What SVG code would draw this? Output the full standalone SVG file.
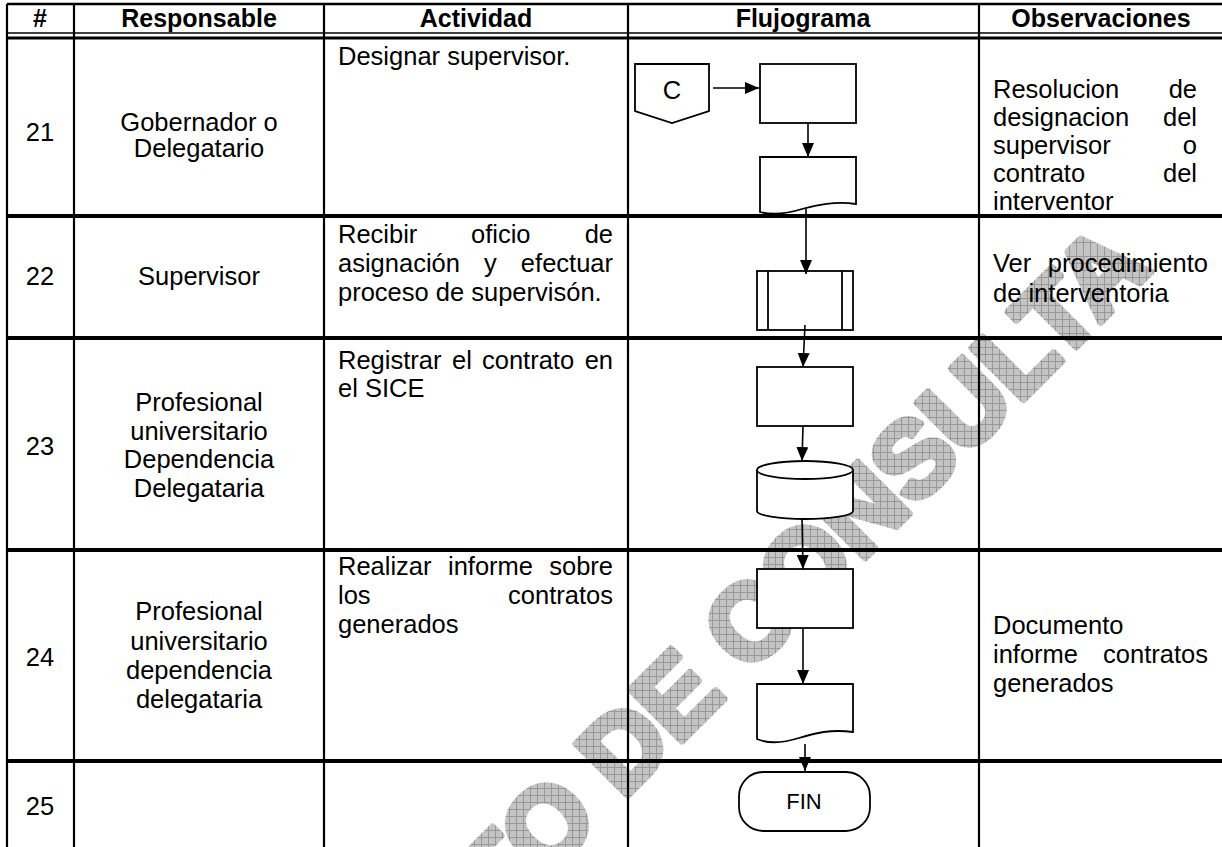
<svg xmlns="http://www.w3.org/2000/svg" width="1222" height="847" viewBox="0 0 1222 847">
<defs>
<style>
text{font-family:"Liberation Sans",Arial,sans-serif;fill:#000}
.b{font-size:25.5px}
.h{font-size:25px;font-weight:bold;text-anchor:middle}
.m{text-anchor:middle}
.e{text-anchor:end}
.ln{stroke:#000;fill:none}
.v{stroke-width:2.2}
.hz{stroke-width:4}
.shape{fill:#fff;stroke:#000;stroke-width:1.8}
.conn{stroke:#000;stroke-width:1.6;fill:none;marker-end:url(#arr)}
.wm{font-family:"Liberation Sans",Arial,sans-serif;font-weight:bold;font-size:106px;fill:url(#hatch);stroke:url(#hatch);stroke-width:7;stroke-linejoin:round}
</style>
<marker id="arr" markerUnits="userSpaceOnUse" markerWidth="14" markerHeight="12" refX="14" refY="6" orient="auto"><path d="M0,0L14,6L0,12z" fill="#000"/></marker>
<pattern id="hatch" patternUnits="userSpaceOnUse" width="7" height="7" patternTransform="rotate(45)"><rect width="7" height="7" fill="#c4c4c4"/><path d="M0,0.5H7M0.5,0V7" stroke="#989898" stroke-width="1"/></pattern>
</defs>
<rect width="1222" height="847" fill="#fff"/>
<g id="watermark"><text class="wm" transform="translate(1153,270) rotate(-45)" text-anchor="end">DOCUMENTO DE CONSULTA</text></g>
<g id="table">
<path class="ln" stroke-width="2.5" d="M7,4H1222"/>
<path class="ln" stroke-width="1.5" d="M7,33H1222"/>
<path class="ln" stroke-width="3" d="M7,38H1222"/>
<path class="ln hz" d="M7,216H1222M7,338H1222M7,550H1222M7,761H1222"/>
<path class="ln v" d="M7,4V847M74,4V847M324,4V847M628,4V847M979,4V847"/>
</g>
<g id="header">
<text class="h" x="40" y="27">#</text>
<text class="h" x="199" y="27">Responsable</text>
<text class="h" x="476" y="27">Actividad</text>
<text class="h" x="803" y="27">Flujograma</text>
<text class="h" x="1101" y="27">Observaciones</text>
</g>
<g id="row21">
<text class="b m" x="40" y="141">21</text>
<text class="b m" x="199" y="131">Gobernador o</text>
<text class="b m" x="199" y="157">Delegatario</text>
<text class="b" x="338" y="65">Designar supervisor.</text>
<text class="b" x="993" y="98">Resolucion</text><text class="b e" x="1197" y="98">de</text>
<text class="b" x="993" y="126">designacion</text><text class="b e" x="1197" y="126">del</text>
<text class="b" x="993" y="154">supervisor</text><text class="b e" x="1197" y="154">o</text>
<text class="b" x="993" y="182">contrato</text><text class="b e" x="1197" y="182">del</text>
<text class="b" x="993" y="210">interventor</text>
</g>
<g id="row22">
<text class="b m" x="40" y="285">22</text>
<text class="b m" x="199" y="285">Supervisor</text>
<text class="b" x="338" y="243">Recibir</text><text class="b" x="471" y="243">oficio</text><text class="b e" x="613" y="243">de</text>
<text class="b" x="338" y="272">asignación</text><text class="b" x="484" y="272">y</text><text class="b e" x="613" y="272">efectuar</text>
<text class="b" x="338" y="301">proceso de supervisón.</text>
<text class="b" x="993" y="272">Ver</text><text class="b e" x="1208" y="272">procedimiento</text>
<text class="b" x="993" y="302">de interventoria</text>
</g>
<g id="row23">
<text class="b m" x="40" y="455">23</text>
<text class="b m" x="199" y="411">Profesional</text>
<text class="b m" x="199" y="440">universitario</text>
<text class="b m" x="199" y="468">Dependencia</text>
<text class="b m" x="199" y="497">Delegataria</text>
<text class="b" x="338" y="369">Registrar</text><text class="b" x="452" y="369">el</text><text class="b" x="482" y="369">contrato</text><text class="b e" x="613" y="369">en</text>
<text class="b" x="338" y="397">el SICE</text>
</g>
<g id="row24">
<text class="b m" x="40" y="666">24</text>
<text class="b m" x="199" y="620">Profesional</text>
<text class="b m" x="199" y="650">universitario</text>
<text class="b m" x="199" y="679">dependencia</text>
<text class="b m" x="199" y="708">delegataria</text>
<text class="b" x="338" y="575">Realizar</text><text class="b" x="448" y="575">informe</text><text class="b e" x="613" y="575">sobre</text>
<text class="b" x="338" y="604">los</text><text class="b e" x="613" y="604">contratos</text>
<text class="b" x="338" y="633">generados</text>
<text class="b" x="993" y="634">Documento</text>
<text class="b" x="993" y="663">informe</text><text class="b e" x="1208" y="663">contratos</text>
<text class="b" x="993" y="692">generados</text>
</g>
<g id="row25">
<text class="b m" x="40" y="815">25</text>
</g>
<g id="n-offpage"><path class="shape" d="M635,64H709V111L672,123L635,111Z"/><text class="b m" x="672" y="99">C</text></g>
<g id="n-rect1"><rect class="shape" x="760" y="64" width="96" height="59"/></g>
<g id="n-doc1"><path class="shape" d="M760,157H856V204C834,201 818,205 802,209C786,214 772,215 760,212Z"/></g>
<g id="n-predef"><rect class="shape" x="757" y="271" width="96" height="59"/><path class="ln" stroke-width="1.8" d="M768,271V330M842,271V330"/></g>
<g id="n-rect2"><rect class="shape" x="757" y="367" width="96" height="59"/></g>
<g id="n-db"><path class="shape" d="M757,470V511A48,8 0 0 0 853,511V470"/><ellipse class="shape" cx="805" cy="470" rx="48" ry="9"/></g>
<g id="n-rect3"><rect class="shape" x="757" y="569" width="96" height="59"/></g>
<g id="n-doc2"><path class="shape" d="M757,684H853V732C831,729 815,733 799,738C783,743 769,744 757,739Z"/></g>
<g id="n-fin"><rect class="shape" x="739" y="772" width="131" height="59" rx="24" ry="24"/><text class="m" font-size="22" x="804" y="809">FIN</text></g>
<g id="connectors">
<path class="conn" d="M713,88H759"/>
<path class="conn" d="M808,123V157"/>
<path class="conn" d="M806,209V274"/>
<path class="conn" d="M805,325L803,367"/>
<path class="conn" d="M803,426L802,461"/>
<path class="conn" d="M802,518L803,569"/>
<path class="conn" d="M803,628V684"/>
<path class="conn" d="M805,744V771"/>
</g>
</svg>
